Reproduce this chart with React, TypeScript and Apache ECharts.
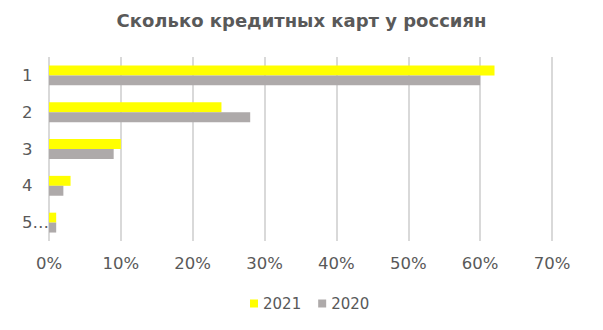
import React, { useEffect, useRef } from "react";
import * as echarts from "echarts";

const categories = ["1", "2", "3", "4", "5…"];
const series2021 = [62, 24, 10, 3, 1];
const series2020 = [60, 28, 9, 2, 1];
const title = "Сколько кредитных карт у россиян";

export default function App() {
  const ref = useRef<HTMLDivElement>(null);
  useEffect(() => {
    const chart = echarts.init(ref.current!, null, { renderer: "svg" });
    const font = "DejaVu Sans";
    chart.setOption({
      animation: false,
      backgroundColor: "#ffffff",
      title: {
        text: title,
        left: "center",
        top: -2,
        textStyle: { fontFamily: font, fontSize: 18, fontWeight: "bold", color: "#595959" },
      },
      legend: {
        bottom: 6,
        left: 237,
        itemWidth: 8,
        itemHeight: 8,
        itemGap: 17,
        icon: "rect",
        textStyle: { fontFamily: font, fontSize: 15, color: "#595959" },
        data: ["2021", "2020"],
      },
      grid: { left: 41, right: 43, top: 49, bottom: 81, containLabel: false },
      xAxis: {
        type: "value",
        min: 0,
        max: 70,
        interval: 10,
        axisLabel: {
          formatter: "{value}%",
          fontFamily: font,
          fontSize: 16.5,
          color: "#595959",
          margin: 14,
        },
        axisLine: { show: false },
        axisTick: { show: false },
        splitLine: { lineStyle: { color: "#d9d9d9", width: 2 } },
      },
      yAxis: {
        type: "category",
        data: categories,
        inverse: true,
        axisLabel: {
          fontFamily: font,
          fontSize: 16.5,
          color: "#595959",
          margin: 27,
          align: "left",
        },
        axisLine: { show: false },
        axisTick: { show: false },
      },
      series: [
        {
          name: "2021",
          type: "bar",
          data: series2021,
          itemStyle: { color: "#ffff00" },
          barGap: "0%",
          barCategoryGap: "46%",
        },
        {
          name: "2020",
          type: "bar",
          data: series2020,
          itemStyle: { color: "#aeaaaa" },
          barGap: "0%",
          barCategoryGap: "46%",
        },
      ],
    });
    return () => chart.dispose();
  }, []);
  return <div ref={ref} style={{ width: 587, height: 314 }} />;
}
